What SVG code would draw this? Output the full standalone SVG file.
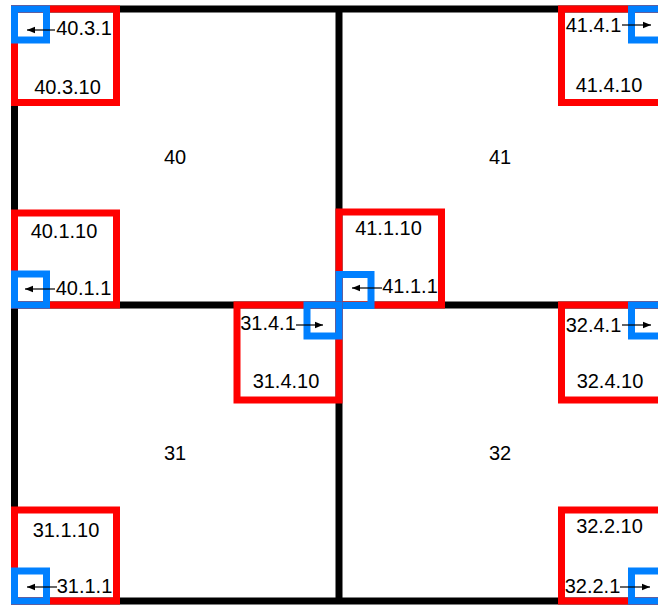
<svg xmlns="http://www.w3.org/2000/svg" width="658" height="606" viewBox="0 0 658 606">
<style>
.grid{fill:none;stroke:#000;stroke-width:7}
.red{fill:none;stroke:#ff0000;stroke-width:7}
.blue{fill:none;stroke:#0080ff;stroke-width:7}
text{font-family:"Liberation Sans",Arial,sans-serif;font-size:20px;fill:#000;text-anchor:middle}
.arr{stroke:#000;stroke-width:1.2;fill:none;marker-end:url(#ah)}
</style>
<defs>
<marker id="ah" viewBox="0 0 10 10" refX="10" refY="5" markerWidth="8" markerHeight="8" markerUnits="userSpaceOnUse" orient="auto">
<path d="M0,1 L10,5 L0,9 z" fill="#000"/>
</marker>
</defs>
<rect width="658" height="606" fill="#fff"/>
<g id="grid">
<rect class="grid" x="14.5" y="9" width="649" height="592"/>
<line class="grid" x1="339" y1="9" x2="339" y2="601"/>
<line class="grid" x1="14.5" y1="305" x2="663.5" y2="305"/>
</g>
<g id="cell40"><text x="175" y="164">40</text></g>
<g id="cell41"><text x="500" y="164">41</text></g>
<g id="cell31"><text x="175" y="460">31</text></g>
<g id="cell32"><text x="500" y="460">32</text></g>
<g id="n40-3">
<rect class="red" x="14.5" y="9" width="102" height="93.5"/>
<rect class="blue" x="14.5" y="9" width="32" height="31"/>
<text x="84" y="35">40.3.1</text>
<text x="67.5" y="94">40.3.10</text>
</g>
<g id="n40-1">
<rect class="red" x="14.5" y="213" width="102" height="92"/>
<rect class="blue" x="14.5" y="274" width="32" height="31"/>
<text x="64" y="238">40.1.10</text>
<text x="83.5" y="295">40.1.1</text>
</g>
<g id="n41-4">
<rect class="red" x="561.5" y="9" width="102" height="93.5"/>
<rect class="blue" x="631.5" y="9" width="32" height="31"/>
<text x="593.5" y="32">41.4.1</text>
<text x="609" y="92">41.4.10</text>
</g>
<g id="n41-1">
<rect class="red" x="339" y="212" width="102.5" height="93"/>
<rect class="blue" x="339" y="274.5" width="32" height="31"/>
<text x="388.5" y="235">41.1.10</text>
<text x="410" y="293">41.1.1</text>
</g>
<g id="n31-4">
<rect class="red" x="237" y="305" width="102" height="95"/>
<rect class="blue" x="307" y="305" width="32" height="31"/>
<text x="268" y="330">31.4.1</text>
<text x="286" y="388">31.4.10</text>
</g>
<g id="n31-1">
<rect class="red" x="14.5" y="510" width="102" height="91"/>
<rect class="blue" x="14.5" y="571" width="32" height="30"/>
<text x="66" y="537">31.1.10</text>
<text x="84.5" y="593">31.1.1</text>
</g>
<g id="n32-4">
<rect class="red" x="561.5" y="305" width="102" height="95"/>
<rect class="blue" x="631.5" y="305" width="32" height="31"/>
<text x="593.5" y="332">32.4.1</text>
<text x="610" y="388">32.4.10</text>
</g>
<g id="n32-2">
<rect class="red" x="561.5" y="510" width="102" height="91"/>
<rect class="blue" x="631.5" y="571" width="32" height="30"/>
<text x="609.5" y="533">32.2.10</text>
<text x="592.5" y="593">32.2.1</text>
</g>
<g id="connectors">
<line class="arr" x1="55" y1="30" x2="27" y2="30"/>
<line class="arr" x1="55" y1="289" x2="25" y2="289"/>
<line class="arr" x1="622" y1="25" x2="651" y2="25"/>
<line class="arr" x1="382" y1="288" x2="352" y2="288"/>
<line class="arr" x1="296" y1="325" x2="323" y2="325"/>
<line class="arr" x1="57" y1="587" x2="27" y2="587"/>
<line class="arr" x1="622" y1="325" x2="651" y2="325"/>
<line class="arr" x1="620" y1="587" x2="650" y2="587"/>
</g>
</svg>
